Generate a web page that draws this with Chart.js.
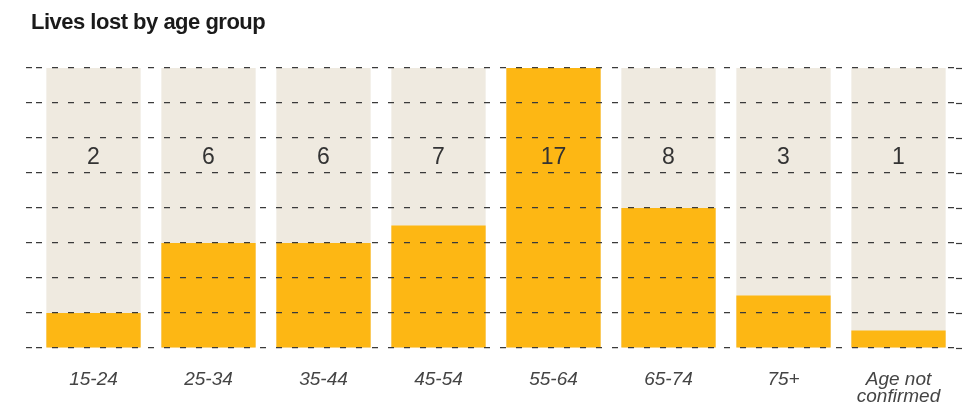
<!DOCTYPE html>
<html>
<head>
<meta charset="utf-8">
<script src="https://cdn.jsdelivr.net/npm/chart.js@4/dist/chart.umd.min.js"></script>
<style>
  html, body { margin: 0; padding: 0; background: #ffffff; }
  #wrap { position: relative; width: 971px; height: 417px; }
  #title {
    position: absolute; left: 31px; top: 11px;
    font-family: "Liberation Sans", Arial, sans-serif;
    font-weight: bold; font-size: 22px; line-height: 22px;
    letter-spacing: -0.5px; color: #1a1a1a; white-space: nowrap;
  }
  canvas { position: absolute; left: 0; top: 0; }
</style>
</head>
<body>
<div id="wrap">
  <canvas id="chart" width="971" height="417"></canvas>
  <div id="title">Lives lost by age group</div>
</div>
<script>
// Age groups and the number of lives lost in each
const ageGroups = ['15-24', '25-34', '35-44', '45-54', '55-64', '65-74', '75+', ['Age not', 'confirmed']];
const livesLost = [2, 6, 6, 7, 17, 8, 3, 1];

// Value axis: 0 to 16 in steps of 2
const axisMin = 0;
const axisMax = 16;
const axisStep = 2;
// Level at which the count labels sit inside each column
const labelLevel = 10.85;

const YELLOW = '#FDB714';
const BEIGE = '#EFEAE0';
const GRID = '#3a3a3a';
const DASH = [6, 10];

// Full-height panel behind each column
const panelHeights = ageGroups.map(() => axisMax);

const countLabels = {
  id: 'countLabels',
  afterDatasetsDraw(chart) {
    const { ctx, scales } = chart;
    const meta = chart.getDatasetMeta(0);
    const y = scales.y.getPixelForValue(labelLevel);
    ctx.save();
    ctx.font = '23px "Liberation Sans", Arial, sans-serif';
    ctx.fillStyle = '#333333';
    ctx.textAlign = 'center';
    ctx.textBaseline = 'middle';
    meta.data.forEach((bar, i) => {
      ctx.fillText(String(livesLost[i]), bar.x, y);
    });
    ctx.restore();
  }
};

new Chart(document.getElementById('chart'), {
  type: 'bar',
  data: {
    labels: ageGroups,
    datasets: [
      {
        label: 'Lives lost',
        data: livesLost,
        backgroundColor: YELLOW,
        borderWidth: 0,
        grouped: false,
        order: 0,
        categoryPercentage: 1,
        barPercentage: 0.82
      },
      {
        label: 'panel',
        data: panelHeights,
        backgroundColor: BEIGE,
        borderWidth: 0,
        grouped: false,
        order: 1,
        categoryPercentage: 1,
        barPercentage: 0.82
      }
    ]
  },
  options: {
    responsive: false,
    animation: false,
    devicePixelRatio: 1,
    layout: { padding: { top: 68, left: 26, right: 0, bottom: -3 } },
    plugins: {
      legend: { display: false },
      tooltip: { enabled: false },
      title: { display: false }
    },
    scales: {
      x: {
        grid: { display: false },
        border: { display: false },
        ticks: {
          color: '#444444',
          padding: 14.5,
          maxRotation: 0,
          autoSkip: false,
          font: { family: '"Liberation Sans", Arial, sans-serif', size: 19, style: 'italic', lineHeight: '17.5px' }
        }
      },
      y: {
        position: 'left',
        min: axisMin,
        max: axisMax,
        ticks: { display: false, stepSize: axisStep },
        grid: {
          z: 1,
          color: GRID,
          lineWidth: 1.2,
          drawTicks: true,
          tickLength: 10,
          tickColor: GRID,
          tickWidth: 1.2,
          tickBorderDash: DASH
        },
        border: { display: false, dash: DASH }
      },
      y2: {
        position: 'right',
        min: axisMin,
        max: axisMax,
        ticks: { display: false, stepSize: axisStep },
        grid: {
          z: 1,
          drawOnChartArea: false,
          drawTicks: true,
          tickLength: 15,
          tickColor: GRID,
          tickWidth: 1.2,
          tickBorderDash: DASH
        },
        border: { display: false }
      }
    }
  },
  plugins: [countLabels]
});
</script>
</body>
</html>
